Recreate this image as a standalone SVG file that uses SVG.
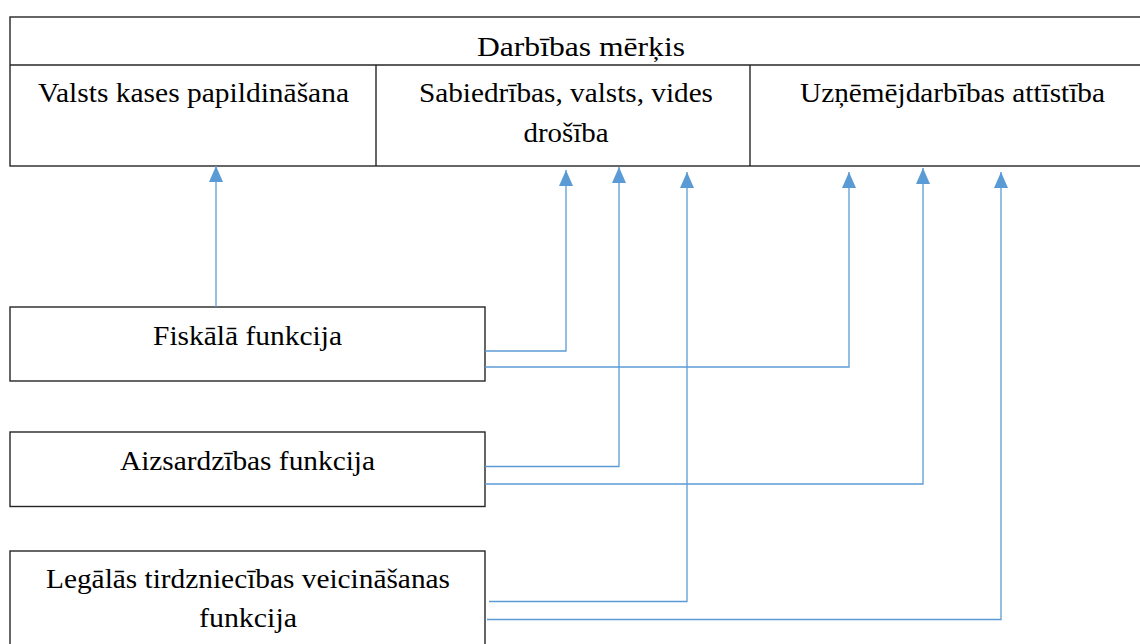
<svg xmlns="http://www.w3.org/2000/svg" width="1140" height="644" viewBox="0 0 1140 644">
<style>
  .box { fill: #ffffff; stroke: #262626; stroke-width: 1.4; }
  .div { stroke: #262626; stroke-width: 1.4; fill: none; }
  .t { font-family: 'Liberation Serif', 'DejaVu Serif', 'Noto Serif', serif; font-size: 28px; fill: #000000; text-anchor: middle; }
  .conn { fill: none; stroke: #5B9BD5; stroke-width: 1.3; marker-end: url(#arr); }
</style>
<defs>
  <marker id="arr" viewBox="0 0 16 16" refX="16" refY="8" markerWidth="16" markerHeight="16" markerUnits="userSpaceOnUse" orient="auto">
    <path d="M0,1 L16,8 L0,15 z" fill="#5B9BD5"/>
  </marker>
</defs>
<rect x="0" y="0" width="1140" height="644" fill="#ffffff"/>

<g id="goal-table">
  <rect class="box" x="10" y="17" width="1140" height="149"/>
  <line class="div" x1="10" y1="65" x2="1140" y2="65"/>
  <line class="div" x1="376" y1="65" x2="376" y2="166"/>
  <line class="div" x1="750" y1="65" x2="750" y2="166"/>
  <text class="t" x="581" y="56" textLength="208" lengthAdjust="spacingAndGlyphs">Darbības mērķis</text>
</g>
<g id="goal-1">
  <text class="t" x="193.5" y="102" textLength="311" lengthAdjust="spacingAndGlyphs">Valsts kases papildināšana</text>
</g>
<g id="goal-2">
  <text class="t" x="566" y="102" textLength="294" lengthAdjust="spacingAndGlyphs">Sabiedrības, valsts, vides</text>
  <text class="t" x="566" y="142" textLength="85" lengthAdjust="spacingAndGlyphs">drošība</text>
</g>
<g id="goal-3">
  <text class="t" x="952.5" y="102" textLength="305" lengthAdjust="spacingAndGlyphs">Uzņēmējdarbības attīstība</text>
</g>

<g id="fiskala">
  <rect class="box" x="10" y="307" width="475" height="74"/>
  <text class="t" x="247.5" y="345" textLength="189" lengthAdjust="spacingAndGlyphs">Fiskālā funkcija</text>
</g>
<g id="aizsardzibas">
  <rect class="box" x="10" y="432" width="475" height="74.5"/>
  <text class="t" x="247.5" y="470" textLength="255" lengthAdjust="spacingAndGlyphs">Aizsardzības funkcija</text>
</g>
<g id="legalas">
  <rect class="box" x="10" y="551" width="475" height="110"/>
  <text class="t" x="248" y="588" textLength="404" lengthAdjust="spacingAndGlyphs">Legālās tirdzniecības veicināšanas</text>
  <text class="t" x="248" y="627" textLength="98" lengthAdjust="spacingAndGlyphs">funkcija</text>
</g>

<g id="connectors">
  <path class="conn" d="M216,307 V166"/>
  <path class="conn" d="M485,351 H566 V170"/>
  <path class="conn" d="M485,367 H849 V172"/>
  <path class="conn" d="M485,466.5 H619 V167"/>
  <path class="conn" d="M485,484 H923 V168"/>
  <path class="conn" d="M489,601.5 H687 V172"/>
  <path class="conn" d="M487,619.5 H1001 V172"/>
</g>
</svg>
